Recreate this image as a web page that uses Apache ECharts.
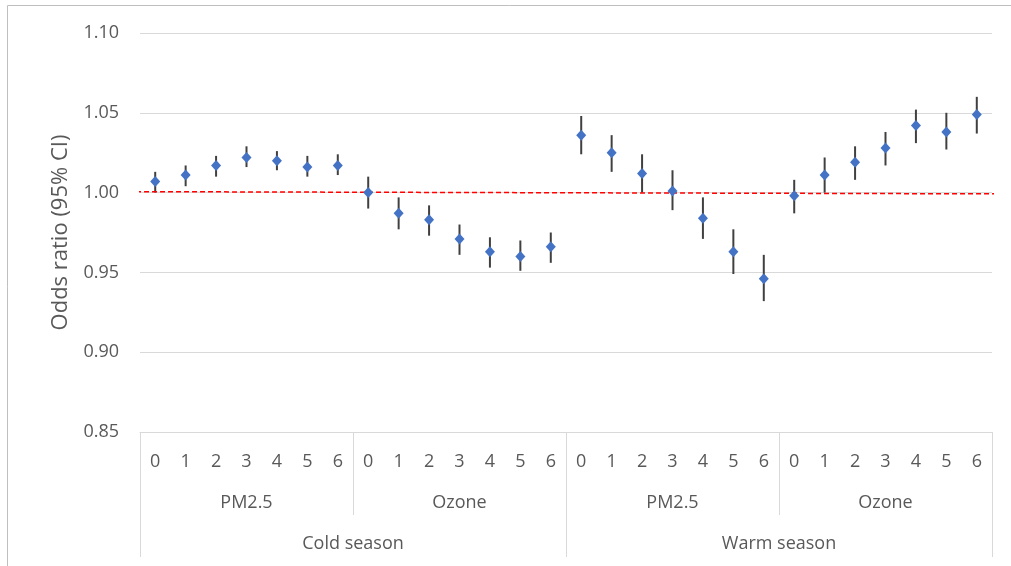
<!DOCTYPE html>
<html>
<head>
<meta charset="utf-8">
<script src="https://cdn.jsdelivr.net/npm/echarts@6/dist/echarts.min.js"></script>
<style>
html,body{margin:0;padding:0;background:#fff;}
#chart{width:1011px;height:566px;}
</style>
</head>
<body>
<div id="chart"></div>
<script>
// ---- data ----
const lagLabels = ['0','1','2','3','4','5','6','0','1','2','3','4','5','6','0','1','2','3','4','5','6','0','1','2','3','4','5','6'];
const pollutants = ['PM2.5','Ozone','PM2.5','Ozone'];
const seasons = ['Cold season','Warm season'];
const oddsRatio = [1.007,1.011,1.017,1.022,1.020,1.016,1.017,
                   1.000,0.987,0.983,0.971,0.963,0.960,0.966,
                   1.036,1.025,1.012,1.001,0.984,0.963,0.946,
                   0.998,1.011,1.019,1.028,1.042,1.038,1.049];
const ciLow  = [1.000,1.004,1.010,1.016,1.014,1.010,1.011,
                0.990,0.977,0.973,0.961,0.953,0.951,0.956,
                1.024,1.013,1.000,0.989,0.971,0.949,0.932,
                0.987,1.000,1.008,1.017,1.031,1.027,1.037];
const ciHigh = [1.013,1.017,1.023,1.029,1.026,1.023,1.024,
                1.010,0.997,0.992,0.980,0.972,0.970,0.975,
                1.048,1.036,1.024,1.014,0.997,0.977,0.961,
                1.008,1.022,1.029,1.038,1.052,1.050,1.060];
const refLineX = [-0.63, 27.76];
const refLineY = [1.0006, 0.9992];
const yTicks = {min:0.85, max:1.10, interval:0.05};

// ---- chart ----
const font = 'Open Sans';
const txt = '#595959';
const chart = echarts.init(document.getElementById('chart'), null, {renderer:'canvas'});
const option = {
  animation:false,
  backgroundColor:'#fff',
  textStyle:{fontFamily:font},
  graphic:[{type:'rect', shape:{x:7.5,y:5.5,width:1020,height:580}, style:{fill:'none',stroke:'#BFBFBF',lineWidth:1}, silent:true, z:-10}],
  grid:{left:140,right:19,top:33,bottom:134},
  xAxis:[
    {type:'category', position:'bottom', data:lagLabels, boundaryGap:true,
     axisLine:{show:true,lineStyle:{color:'#D9D9D9',width:1}},
     axisTick:{show:false},
     axisLabel:{interval:0,color:txt,fontSize:18,fontFamily:font,margin:21}},
    {type:'category', position:'bottom', data:pollutants, boundaryGap:true,
     axisLine:{show:false},
     axisTick:{show:true,length:83,lineStyle:{color:'#D9D9D9',width:1}},
     axisLabel:{interval:0,color:txt,fontSize:18,fontFamily:font,margin:62}},
    {type:'category', position:'bottom', data:seasons, boundaryGap:true,
     axisLine:{show:false},
     axisTick:{show:true,length:125,lineStyle:{color:'#D9D9D9',width:1}},
     axisLabel:{interval:0,color:txt,fontSize:18,fontFamily:font,margin:103}},
    {type:'value', position:'bottom', show:false, min:-0.5, max:lagLabels.length-0.5}
  ],
  yAxis:{type:'value', min:yTicks.min, max:yTicks.max, interval:yTicks.interval,
    name:'Odds ratio (95% CI)', nameLocation:'middle', nameGap:68,
    nameTextStyle:{color:txt,fontSize:22,fontFamily:font},
    axisLine:{show:false}, axisTick:{show:false},
    axisLabel:{color:txt,fontSize:18,fontFamily:font,margin:21,formatter:v=>v.toFixed(2)},
    splitLine:{lineStyle:{color:'#D9D9D9',width:1}}},
  series:[
    {type:'custom', xAxisIndex:0, yAxisIndex:0, z:2,
     data:ciLow.map((l,i)=>[i,l,ciHigh[i]]),
     renderItem:function(params,api){
       const p1=api.coord([api.value(0),api.value(1)]);
       const p2=api.coord([api.value(0),api.value(2)]);
       return {type:'line', shape:{x1:p1[0],y1:p1[1],x2:p2[0],y2:p2[1]},
               style:{stroke:'#404040',lineWidth:2}};
     }},
    {type:'line', xAxisIndex:3, yAxisIndex:0, z:3, clip:false, symbol:'none',
     data:refLineX.map((x,i)=>[x,refLineY[i]]),
     lineStyle:{color:'#FF0000',width:1.5,type:[5,3]}},
    {type:'scatter', xAxisIndex:0, yAxisIndex:0, z:4,
     symbol:'diamond', symbolSize:[10,11],
     itemStyle:{color:'#4472C4',opacity:1},
     data:oddsRatio.map((v,i)=>[i,v])}
  ]
};
chart.setOption(option);
</script>
</body>
</html>
